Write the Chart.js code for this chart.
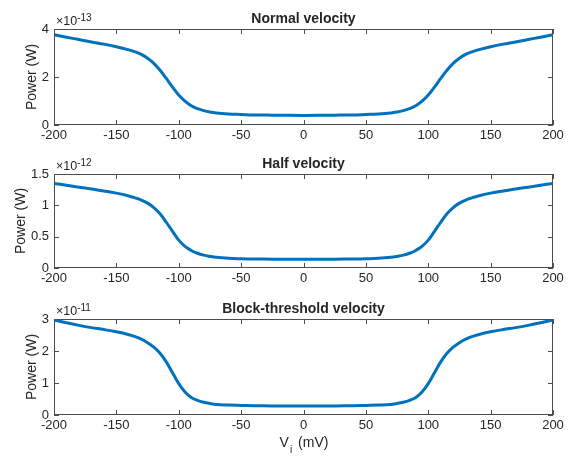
<!DOCTYPE html>
<html>
<head>
<meta charset="utf-8">
<script src="https://cdn.jsdelivr.net/npm/chart.js@4.4.0/dist/chart.umd.min.js"></script>
<style>
  body { margin: 0; background: #fff; }
  .panel { position: absolute; left: 0; width: 571px; }
</style>
</head>
<body>
<div class="panel" style="top:0;height:145px"><canvas id="grafico1"></canvas></div>
<div class="panel" style="top:145px;height:145px"><canvas id="grafico2"></canvas></div>
<div class="panel" style="top:290px;height:168px"><canvas id="grafico3"></canvas></div>
<script>
// voltage (mV) sample points
const voltage = [-200, -190, -180, -170, -160, -150, -140, -135, -130, -125, -120, -115, -110, -105, -100, -95, -90, -85, -80, -75, -70, -60, -50, -40, -25, 0,
                 25, 40, 50, 60, 70, 75, 80, 85, 90, 95, 100, 105, 110, 115, 120, 125, 130, 135, 140, 150, 160, 170, 180, 190, 200];

// power, in units of 1e-13 W
const normalPower = [3.76, 3.66, 3.56, 3.46, 3.37, 3.26, 3.13, 3.05, 2.94, 2.78, 2.57, 2.28, 1.94, 1.58, 1.25, 0.99, 0.80, 0.68, 0.60, 0.54, 0.50, 0.46, 0.44, 0.42, 0.41, 0.40,
                     0.41, 0.42, 0.44, 0.46, 0.50, 0.54, 0.60, 0.68, 0.80, 0.99, 1.25, 1.58, 1.94, 2.28, 2.57, 2.78, 2.94, 3.05, 3.13, 3.26, 3.37, 3.46, 3.56, 3.66, 3.76];
// power, in units of 1e-12 W
const halfPower = [1.35, 1.32, 1.29, 1.26, 1.23, 1.195, 1.15, 1.12, 1.085, 1.035, 0.965, 0.865, 0.73, 0.585, 0.445, 0.345, 0.28, 0.235, 0.205, 0.185, 0.17, 0.155, 0.148, 0.144, 0.141, 0.14,
                   0.141, 0.144, 0.148, 0.155, 0.17, 0.185, 0.205, 0.235, 0.28, 0.345, 0.445, 0.585, 0.73, 0.865, 0.965, 1.035, 1.085, 1.12, 1.15, 1.195, 1.23, 1.26, 1.29, 1.32, 1.35];
// power, in units of 1e-11 W
const blockPower = [2.97, 2.88, 2.80, 2.73, 2.67, 2.60, 2.51, 2.45, 2.37, 2.26, 2.12, 1.93, 1.66, 1.32, 0.98, 0.72, 0.55, 0.46, 0.40, 0.36, 0.33, 0.31, 0.30, 0.29, 0.285, 0.28,
                    0.285, 0.29, 0.30, 0.31, 0.33, 0.36, 0.40, 0.46, 0.55, 0.72, 0.98, 1.32, 1.66, 1.93, 2.12, 2.26, 2.37, 2.45, 2.51, 2.60, 2.67, 2.73, 2.80, 2.88, 2.97];

const panelTitles = ['Normal velocity', 'Half velocity', 'Block-threshold velocity'];
const panelExponents = ['-13', '-12', '-11'];
const yMaxes = [4, 1.5, 3];
const ySteps = [2, 0.5, 1];
const xTicks = [-200, -150, -100, -50, 0, 50, 100, 150, 200];

const textColor = '#262626';
const lineColor = '#0072BD';
const fontFamily = 'Liberation Sans, Arial, sans-serif';

// MATLAB-like box, inward ticks, titles and labels
const matlabAxes = {
    id: 'matlabAxes',
    afterDraw(chart, args, opts) {
        const ctx = chart.ctx;
        const a = chart.chartArea;
        const x = chart.scales.x;
        const y = chart.scales.y;
        ctx.save();
        ctx.strokeStyle = '#4d4d4d';
        ctx.lineWidth = 1;
        ctx.beginPath();
        x.ticks.forEach(t => {
            const px = Math.round(x.getPixelForValue(t.value)) + 0.5;
            ctx.moveTo(px, a.bottom); ctx.lineTo(px, a.bottom - 5);
            ctx.moveTo(px, a.top); ctx.lineTo(px, a.top + 5);
        });
        y.ticks.forEach(t => {
            const py = Math.round(y.getPixelForValue(t.value)) + 0.5;
            ctx.moveTo(a.left, py); ctx.lineTo(a.left + 5, py);
            ctx.moveTo(a.right, py); ctx.lineTo(a.right - 5, py);
        });
        ctx.stroke();
        ctx.strokeRect(Math.round(a.left) + 0.5, Math.round(a.top) + 0.5,
                       Math.round(a.width) - 1, Math.round(a.height) - 1);

        ctx.fillStyle = textColor;
        const cx = (a.left + a.right) / 2;

        // title
        ctx.font = 'bold 14px ' + fontFamily;
        ctx.textAlign = 'center';
        ctx.textBaseline = 'alphabetic';
        ctx.fillText(opts.title, cx, a.top - 6);

        // exponent label
        ctx.textAlign = 'left';
        ctx.font = '12.5px ' + fontFamily;
        ctx.fillText('\u00d710', a.left + 2, a.top - 4);
        const w = ctx.measureText('\u00d710').width;
        ctx.font = '10px ' + fontFamily;
        ctx.fillText(opts.exponent, a.left + 2 + w, a.top - 8);

        // y axis label
        ctx.font = '13px ' + fontFamily;
        let maxW = 0;
        y.ticks.forEach(t => { maxW = Math.max(maxW, ctx.measureText(t.label).width); });
        ctx.font = '14px ' + fontFamily;
        ctx.save();
        ctx.translate(a.left - 5 - maxW - 10, (a.top + a.bottom) / 2);
        ctx.rotate(-Math.PI / 2);
        ctx.textAlign = 'center';
        ctx.textBaseline = 'middle';
        ctx.fillText('Power (W)', 0, 0);
        ctx.restore();

        // x axis label (bottom panel only)
        if (opts.xLabel) {
            ctx.font = '14px ' + fontFamily;
            const vW = ctx.measureText('V').width;
            const restW = ctx.measureText(' (mV)').width;
            ctx.font = '10px ' + fontFamily;
            const iW = ctx.measureText('i').width + 2;
            const total = vW + iW + restW;
            let px = cx - total / 2;
            const base = a.bottom + 32;
            ctx.textAlign = 'left';
            ctx.font = '14px ' + fontFamily;
            ctx.fillText('V', px, base);
            px += vW + 1;
            ctx.font = '10px ' + fontFamily;
            ctx.fillText('i', px, base + 6);
            px += iW;
            ctx.font = '14px ' + fontFamily;
            ctx.fillText(' (mV)', px, base);
        }
        ctx.restore();
    }
};

function makePanel(id, values, i, bottomHeight, showXLabel) {
    const ctx = document.getElementById(id).getContext('2d');
    return new Chart(ctx, {
        type: 'line',
        data: {
            datasets: [{
                data: voltage.map((v, k) => ({ x: v, y: values[k] })),
                borderColor: lineColor,
                borderWidth: 3,
                pointRadius: 0,
                tension: 0.4,
                fill: false
            }]
        },
        options: {
            responsive: true,
            maintainAspectRatio: false,
            animation: false,
            layout: { padding: { top: 29, right: 18, left: 0, bottom: 0 } },
            plugins: {
                legend: { display: false },
                tooltip: { enabled: false },
                title: { display: false },
                matlabAxes: {
                    title: panelTitles[i],
                    exponent: panelExponents[i],
                    xLabel: showXLabel
                }
            },
            scales: {
                x: {
                    type: 'linear',
                    min: -200,
                    max: 200,
                    afterBuildTicks: scale => { scale.ticks = xTicks.map(v => ({ value: v })); },
                    afterFit: scale => { scale.height = bottomHeight; },
                    grid: { display: false, drawTicks: false },
                    border: { display: false },
                    ticks: { color: textColor, font: { family: fontFamily, size: 13 }, padding: 3, maxRotation: 0 }
                },
                y: {
                    min: 0,
                    max: yMaxes[i],
                    afterFit: scale => { scale.width = 54; },
                    grid: { display: false, drawTicks: false },
                    border: { display: false },
                    ticks: {
                        stepSize: ySteps[i],
                        color: textColor,
                        font: { family: fontFamily, size: 13 },
                        padding: 5,
                        callback: v => String(v)
                    }
                }
            }
        },
        plugins: [matlabAxes]
    });
}

makePanel('grafico1', normalPower, 0, 20, false);
makePanel('grafico2', halfPower, 1, 22, false);
makePanel('grafico3', blockPower, 2, 43, true);
</script>
</body>
</html>
